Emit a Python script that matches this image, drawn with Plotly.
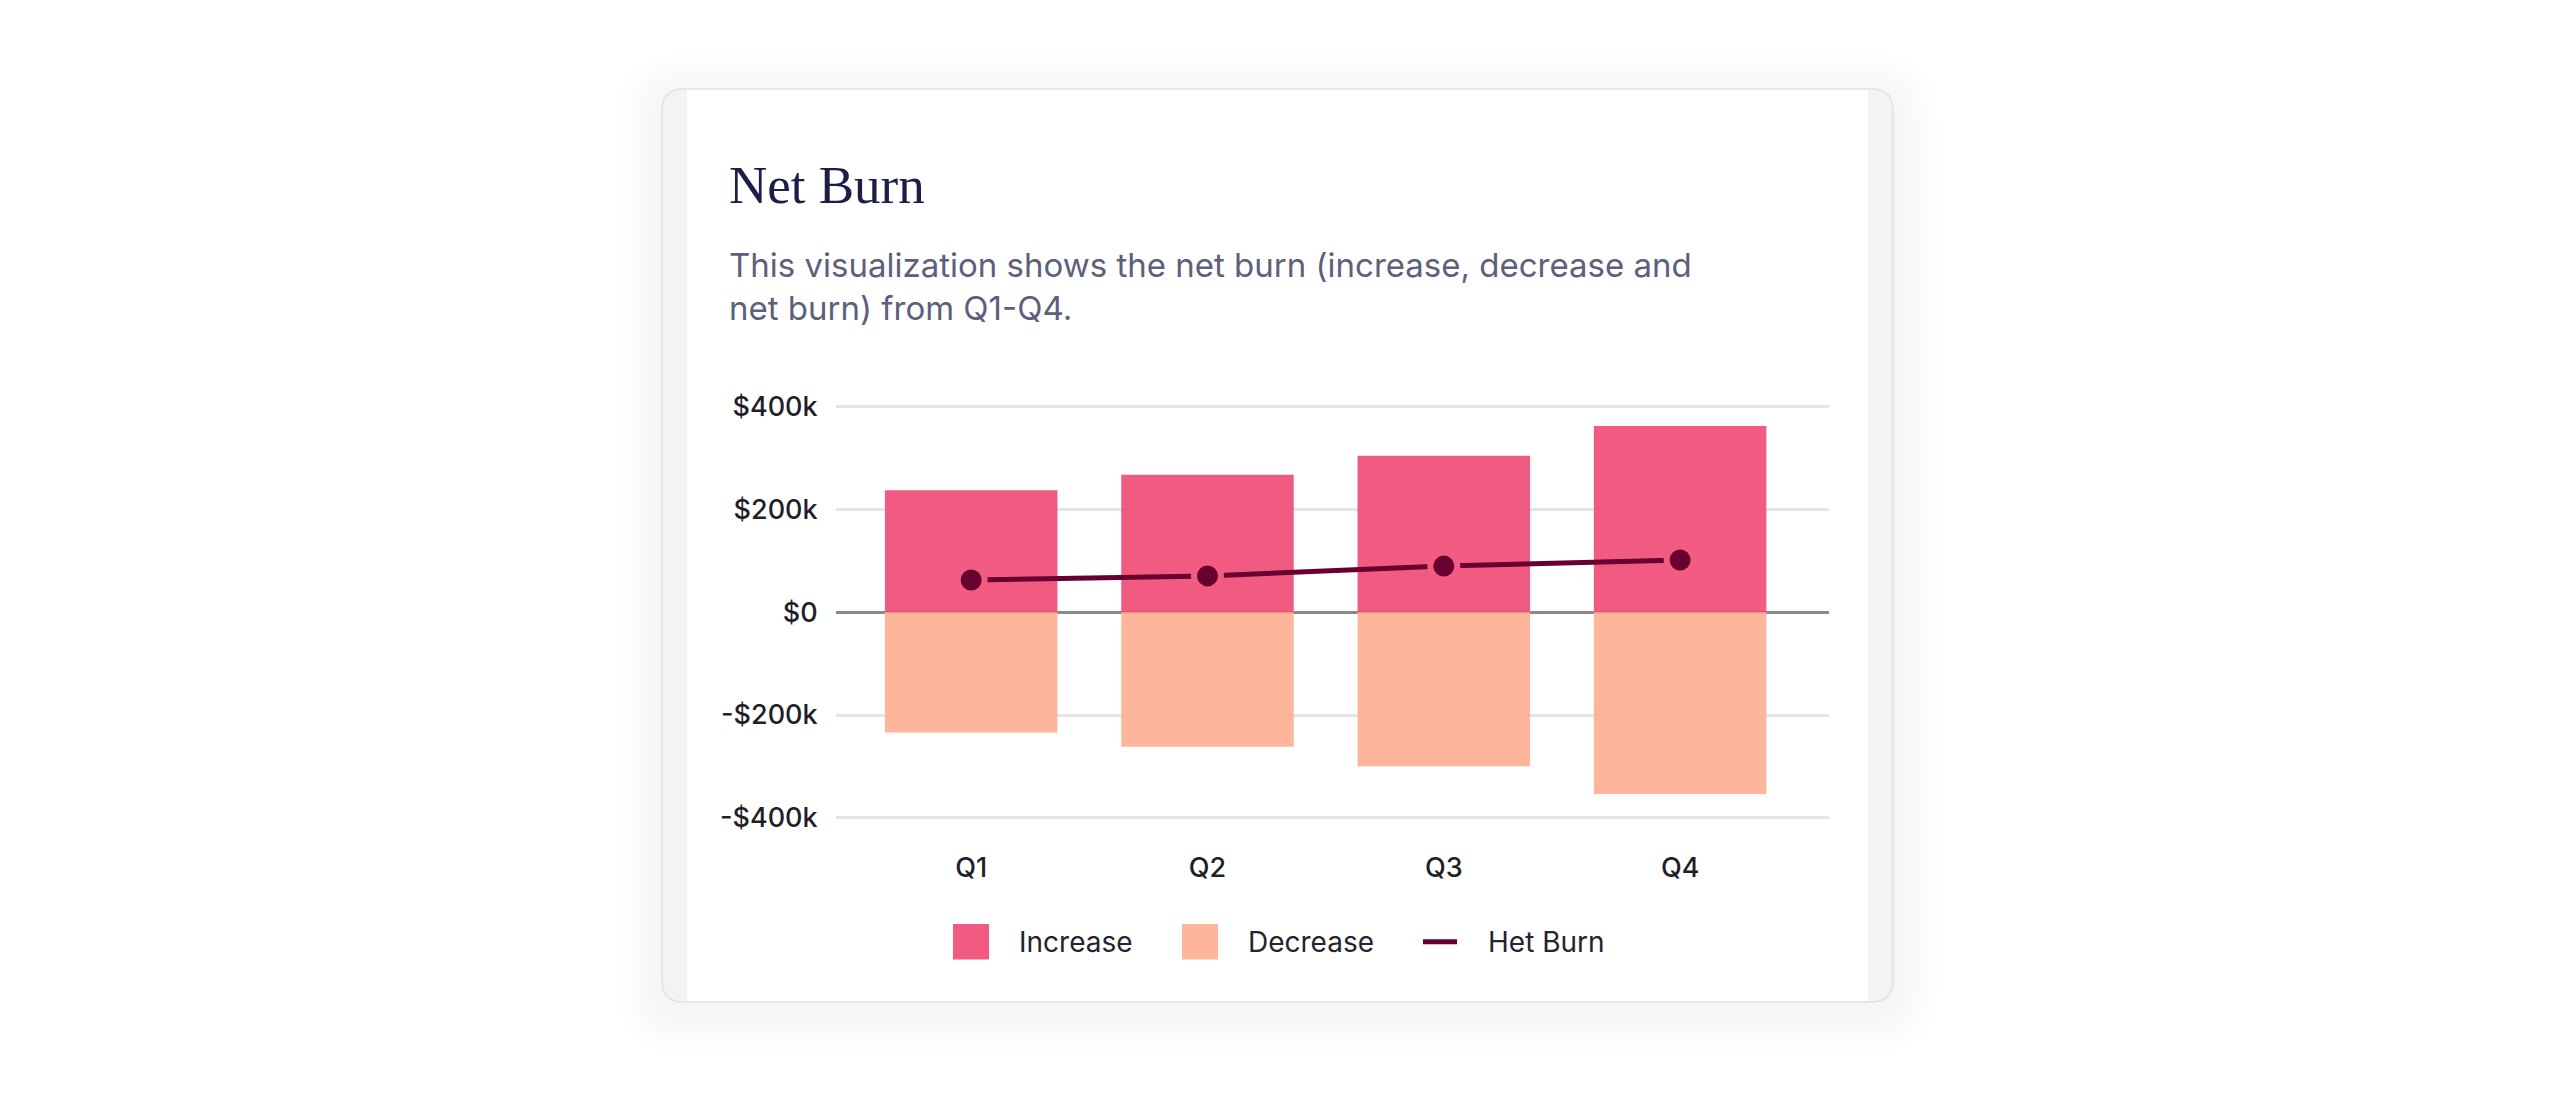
import plotly.graph_objects as go

# data
quarters = ["Q1", "Q2", "Q3", "Q4"]
increase = [238000, 268000, 305000, 363000]
decrease = [-234000, -262000, -300000, -354000]
net_burn = [63000, 71000, 90000, 102000]

series_names = ["Increase", "Decrease", "Het Burn"]
y_ticks = [-400000, -200000, 0, 200000, 400000]
y_tick_text = ["-$400k", "-$200k", "$0", "$200k", "$400k"]

title_text = "Net Burn"
subtitle_text = "This visualization shows the net burn (increase, decrease and<br>net burn) from Q1-Q4."

# colours
inc_color = "rgba(240,73,116,0.9)"
inc_flat = "#F25B82"  # same pink as the bar once laid on white
dec_color = "rgba(253,173,144,0.9)"
net_color = "#680030"

W, H = 2560, 1102


def px(x):
    return x / W


def py(y):
    return 1 - y / H


def rounded(x0, y0, x1, y1, r):
    # rounded rectangle path in paper coords, input in pixels
    return (f"M {px(x0 + r)},{py(y0)} L {px(x1 - r)},{py(y0)} Q {px(x1)},{py(y0)} {px(x1)},{py(y0 + r)} "
            f"L {px(x1)},{py(y1 - r)} Q {px(x1)},{py(y1)} {px(x1 - r)},{py(y1)} "
            f"L {px(x0 + r)},{py(y1)} Q {px(x0)},{py(y1)} {px(x0)},{py(y1 - r)} "
            f"L {px(x0)},{py(y0 + r)} Q {px(x0)},{py(y0)} {px(x0 + r)},{py(y0)} Z")


fig = go.Figure()

fig.add_trace(go.Bar(x=quarters, y=increase, name=series_names[0], marker_color=inc_color,
                     marker_line_width=0, width=0.73, showlegend=False))
fig.add_trace(go.Bar(x=quarters, y=decrease, name=series_names[1], marker_color=dec_color,
                     marker_line_width=0, width=0.73, showlegend=False))
# marker ring in bar colour gives the little gap between dot and line
fig.add_trace(go.Scatter(x=quarters, y=net_burn, name=series_names[2], mode="lines+markers",
                         line=dict(color=net_color, width=5),
                         marker=dict(size=27, color=net_color, line=dict(color=inc_flat, width=6)),
                         showlegend=False))

# card with soft shadow
shapes = []
card = (662, 84, 1893, 1007)
for i in range(9, 0, -1):
    g = i * 5
    shapes.append(dict(type="path", xref="paper", yref="paper", layer="below",
                       path=rounded(card[0] - g, card[1] - g + 8, card[2] + g, card[3] + g + 8, 22 + g),
                       fillcolor="rgba(0,0,0,0.005)", line_width=0))
shapes.append(dict(type="path", xref="paper", yref="paper", layer="below",
                   path=rounded(*card, 22), fillcolor="#f3f3f5", line=dict(color="#e2e2e4", width=1.5)))
shapes.append(dict(type="rect", xref="paper", yref="paper", layer="below",
                   x0=px(687), x1=px(1868), y0=py(1006), y1=py(85), fillcolor="white", line_width=0))

# legend drawn by hand
legend_items = [
    (series_names[0], inc_color, "box", 953, 1017),
    (series_names[1], dec_color, "box", 1182, 1246),
    (series_names[2], net_color, "line", 1423, 1486),
]
annotations = []
for name, color, kind, sx, tx in legend_items:
    if kind == "box":
        shapes.append(dict(type="rect", xref="paper", yref="paper", x0=px(sx), x1=px(sx + 36),
                           y0=py(964), y1=py(928), fillcolor=color, line_width=0))
    else:
        shapes.append(dict(type="line", xref="paper", yref="paper", x0=px(sx), x1=px(sx + 34),
                           y0=py(946), y1=py(946), line=dict(color=color, width=5)))
    annotations.append(dict(text=name, x=px(tx), y=py(946), xref="paper", yref="paper",
                            xanchor="left", yanchor="middle", showarrow=False,
                            font=dict(family="Inter", size=28, color="#24242e")))

annotations.append(dict(text=title_text, x=px(727), y=py(181), xref="paper", yref="paper",
                        xanchor="left", yanchor="middle", showarrow=False,
                        font=dict(family="Liberation Serif", size=53, color="#1b1f48")))
annotations.append(dict(text=subtitle_text, x=px(727), y=py(284), xref="paper", yref="paper",
                        xanchor="left", yanchor="middle", align="left", showarrow=False,
                        font=dict(family="Inter", size=33, color="#5d5f7d")))

tick_font = dict(family="Inter", size=27, color="#1f1f2a", weight=500)

fig.update_layout(
    width=W, height=H,
    margin=dict(l=0, r=0, t=0, b=0),
    paper_bgcolor="white",
    plot_bgcolor="rgba(0,0,0,0)",
    barmode="relative",
    showlegend=False,
    shapes=shapes,
    annotations=annotations,
    xaxis=dict(domain=[px(836), px(1829)], range=[-0.572, 3.63], showgrid=False, zeroline=False,
               showline=False, ticks="outside", ticklen=16, tickcolor="rgba(0,0,0,0)",
               tickfont=tick_font),
    yaxis=dict(domain=[py(831), py(395)], range=[-420000, 420000], tickvals=y_ticks,
               ticktext=y_tick_text, showgrid=True, gridcolor="#e5e5e7", gridwidth=2.5,
               zeroline=True, zerolinecolor="#8a8a8e", zerolinewidth=3,
               showline=False, ticks="outside", ticklen=12, tickcolor="rgba(0,0,0,0)",
               tickfont=tick_font),
)

fig.write_html("out.html", config={"displayModeBar": False},
               post_script="document.body.style.margin='0';")
